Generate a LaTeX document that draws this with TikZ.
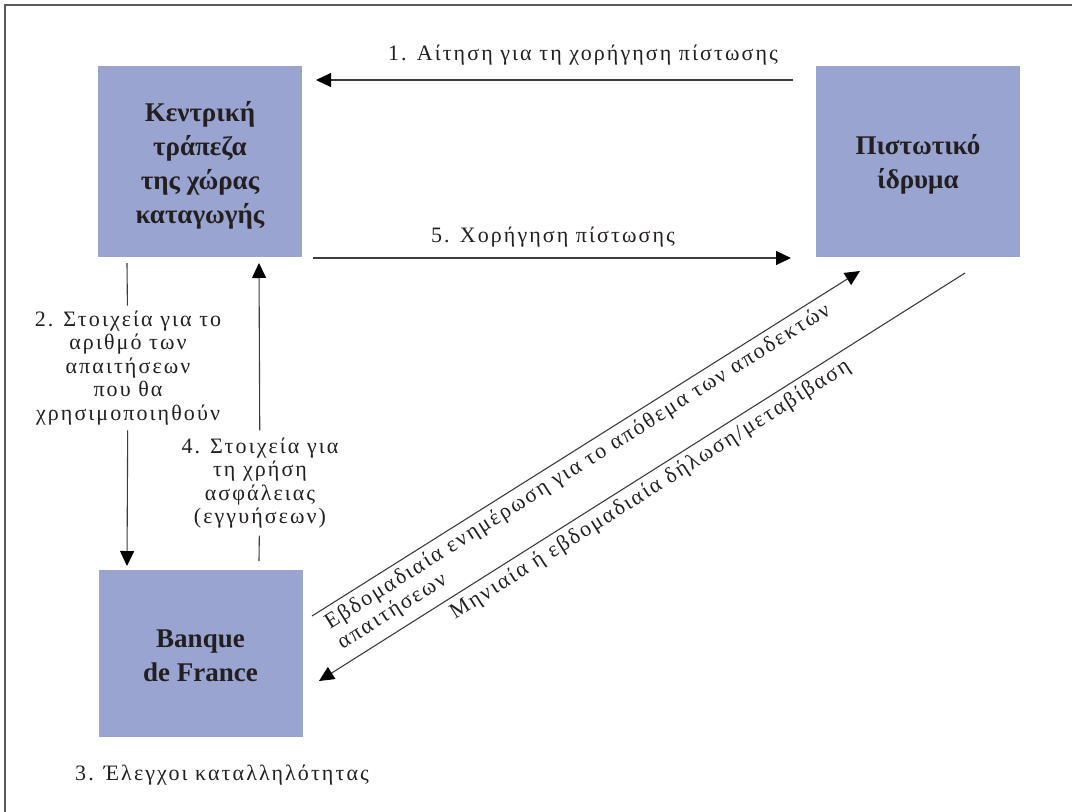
\documentclass[tikz,border=0pt]{standalone}
\usepackage{fontspec}
\setmainfont{Liberation Serif}
\newfontfamily\lblfont[LetterSpace=9.5]{Liberation Serif}
\usetikzlibrary{arrows.meta}
\definecolor{boxblue}{RGB}{154,164,208}
\definecolor{linegray}{RGB}{60,60,60}
\definecolor{txt}{RGB}{35,31,32}
\tikzset{
  bank/.style={fill=boxblue, draw=none, minimum width=204pt, minimum height=191pt},
  banktext/.style={align=center, font=\fontsize{27}{34}\selectfont\bfseries, text=txt, inner sep=0pt},
  lbl/.style={font=\lblfont\fontsize{22}{23.5}\selectfont, text=txt, inner sep=0pt},
  conn/.style={draw=linegray, line width=1.1pt},
  arr/.style={conn, -{Triangle[length=15pt,width=14pt,color=black]}},
}
\begin{document}
\begin{tikzpicture}[x=1pt,y=-1pt]
\useasboundingbox (0,0) rectangle (1072,812);
\draw[draw=black!65, line width=1.5pt] (5,5) rectangle (1085,825);
% boxes
\node[bank] (cb) at (200,161.5) {};
\node[bank] (ci) at (918,161.5) {};
\node[bank, minimum height=167pt] (bf) at (200.5,653.5) {};
\node[banktext] (cbt) at (200,165) {Κεντρική\\τράπεζα\\της χώρας\\καταγωγής};
\node[banktext] (cit) at (918,164.5) {Πιστωτικό\\ίδρυμα};
\node[banktext] (bft) at (200.5,656) {Banque\\de France};
% coordinates
\coordinate (a1s) at (793,80);
\coordinate (a1e) at (316,80);
\coordinate (a5s) at (313,258);
\coordinate (a5e) at (791,258);
\coordinate (a2s) at (127,263);
\coordinate (a2e) at (127,566);
\coordinate (a4s) at (259,561);
\coordinate (a4e) at (259,263);
\coordinate (d1s) at (312,616);
\coordinate (d1e) at (860,271);
\coordinate (d2s) at (965,273);
\coordinate (d2e) at (319,681);
% labels
\node[lbl] (l1) at (583,55) {1. Αίτηση για τη χορήγηση πίστωσης};
\node[lbl] (l5) at (553,237) {5. Χορήγηση πίστωσης};
\node[lbl, align=center, inner sep=5pt] (l2) at (128,368) {2. Στοιχεία για το\\αριθμό των\\απαιτήσεων\\που θα\\χρησιμοποιηθούν};
\node[lbl, align=center, inner sep=7pt] (l4) at (260,483) {4. Στοιχεία για\\τη χρήση\\ασφάλειας\\(εγγυήσεων)};
\node[lbl, anchor=west] (l3) at (75,775) {3. Έλεγχοι καταλληλότητας};
% connectors
\draw[arr] (a1s) -- (a1e);
\draw[arr] (a5s) -- (a5e);
\draw[conn] (a2s) -- (l2);
\draw[arr] (l2) -- (a2e);
\draw[conn] (a4s) -- (l4);
\draw[arr] (l4) -- (a4e);
\draw[arr] (d1s) -- node[lbl, sloped, pos=0.47, anchor=north, align=left, inner sep=5pt] (l6)
  {Εβδομαδιαία ενημέρωση για το απόθεμα των αποδεκτών\\απαιτήσεων} (d1e);
\draw[arr] (d2s) -- node[lbl, sloped, pos=0.5, anchor=north, inner sep=5pt] (l7)
  {Μηνιαία ή εβδομαδιαία δήλωση/μεταβίβαση} (d2e);
\end{tikzpicture}
\end{document}
